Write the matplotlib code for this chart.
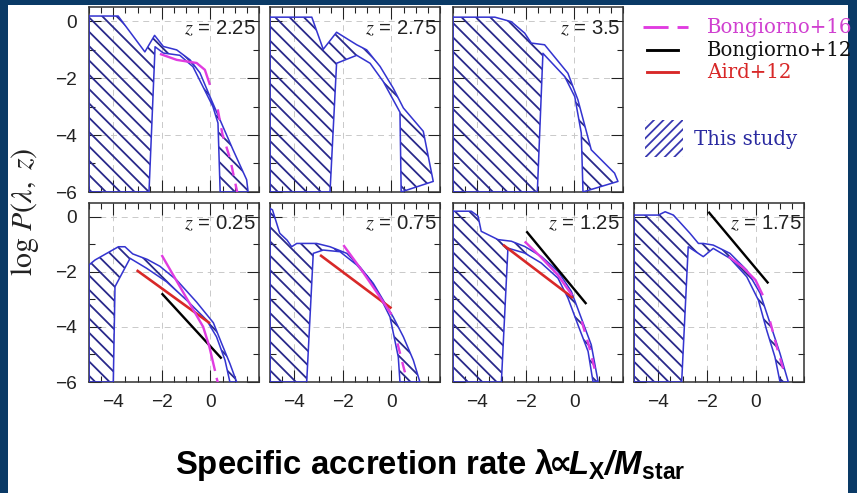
import numpy as np
import matplotlib
matplotlib.use('Agg')
import matplotlib.pyplot as plt
from matplotlib import font_manager
from matplotlib.lines import Line2D
from matplotlib.patches import Rectangle

# ---------------- data ----------------
z_labels = ['2.25', '2.75', '3.5', '0.25', '0.75', '1.25', '1.75']

# "This study" bands: upper and lower edges
up_x_225 = [-5.0, -3.8, -2.7, -2.3, -1.94, -1.39, -0.84, -0.43, -0.02, 0.39, 0.93, 1.49, 1.55]
up_y_225 = [0.18, 0.18, -1.08, -0.5, -0.89, -1.01, -1.36, -1.82, -2.65, -3.46, -4.52, -5.57, -6.0]
lo_x_225 = [-5.0, -2.53, -2.28, -1.94, -1.26, -0.72, -0.31, 0.1, 0.31, 0.4]
lo_y_225 = [-6.0, -6.0, -0.9, -1.12, -1.2, -1.6, -2.3, -3.0, -3.58, -6.0]

up_x_275 = [-5.0, -3.28, -2.81, -2.26, -1.43, -1.02, -0.47, 0.07, 0.49, 1.31, 1.72]
up_y_275 = [0.14, 0.14, -0.99, -0.39, -0.83, -1.01, -1.59, -2.35, -3.05, -3.87, -5.63]
lo_x_275 = [-5.0, -2.53, -2.26, -1.43, -0.88, -0.34, 0.21, 0.35, 0.4]
lo_y_275 = [-6.0, -6.0, -1.48, -1.2, -1.48, -2.12, -2.98, -3.2, -6.0]

up_x_350 = [-5.0, -3.28, -2.6, -2.05, -1.78, -1.23, -0.27, 0.14, 0.69, 1.65, 1.79]
up_y_350 = [0.14, 0.14, -0.02, -0.42, -0.77, -0.83, -1.83, -2.76, -4.52, -5.34, -5.63]
lo_x_350 = [-5.0, -1.53, -1.3, -0.4, 0.01, 0.28, 0.35]
lo_y_350 = [-6.0, -6.0, -1.13, -1.95, -2.65, -3.93, -6.0]

up_x_025 = [-5.0, -4.75, -3.79, -3.52, -3.2, -2.6, -2.08, -1.39, -0.57, 0.12, 0.46, 0.8, 1.08]
up_y_025 = [-1.75, -1.57, -1.09, -1.09, -1.35, -1.55, -1.8, -2.3, -3.1, -3.85, -4.6, -5.33, -6.0]
lo_x_025 = [-5.0, -4.0, -3.93, -3.31, -2.63, -1.81, -0.98, -0.16, 0.25, 0.6, 0.8]
lo_y_025 = [-6.0, -6.0, -2.54, -1.51, -1.87, -2.36, -3.03, -3.75, -4.36, -5.21, -6.0]

up_x_075 = [-5.0, -4.9, -4.6, -4.3, -4.11, -3.9, -3.63, -3.08, -2.53, -1.84, -1.3, -0.75, -0.34, 0.07, 0.49, 0.9, 1.17]
up_y_075 = [0.3, 0.25, -0.6, -0.85, -1.09, -0.97, -0.97, -0.97, -1.09, -1.33, -1.82, -2.42, -3.03, -3.64, -4.36, -5.21, -6.0]
lo_x_075 = [-5.0, -3.49, -3.22, -2.81, -2.12, -1.43, -0.88, -0.47, -0.06, 0.28, 0.35]
lo_y_075 = [-6.0, -6.0, -1.33, -1.21, -1.27, -1.75, -2.3, -2.91, -3.64, -5.09, -6.0]

up_x_125 = [-5.0, -4.25, -3.97, -3.84, -3.15, -2.6, -2.05, -1.37, -0.68, -0.13, 0.28, 0.69, 0.97]
up_y_125 = [0.2, 0.2, 0.02, -0.53, -0.83, -0.89, -1.08, -1.44, -1.98, -2.71, -3.68, -4.65, -5.98]
lo_x_125 = [-5.0, -3.01, -2.74, -2.05, -1.37, -0.68, -0.27, 0.14, 0.56, 0.76]
lo_y_125 = [-6.0, -6.0, -1.14, -1.32, -1.68, -2.23, -2.95, -3.92, -4.89, -5.98]

up_x_175 = [-5.0, -4.0, -3.72, -3.38, -2.7, -2.35, -2.15, -1.74, -1.05, -0.36, 0.19, 0.6, 1.01, 1.35]
up_y_175 = [0.06, 0.06, 0.18, 0.06, -0.6, -0.97, -0.97, -1.03, -1.33, -1.94, -2.78, -3.87, -4.97, -6.0]
lo_x_175 = [-5.0, -3.04, -2.77, -2.15, -1.74, -1.05, -0.36, 0.12, 0.46, 0.8, 1.01]
lo_y_175 = [-6.0, -6.0, -1.09, -1.45, -1.15, -1.51, -2.18, -3.03, -4.12, -5.09, -6.0]

# Bongiorno+16 (solid part, dashed extrapolation)
b16_x_225 = [-2.08, -1.39, -0.57, -0.23, -0.02]
b16_y_225 = [-1.15, -1.36, -1.47, -1.71, -2.24]
b16d_x_225 = [0.3, 0.5, 0.8, 1.1]
b16d_y_225 = [-3.1, -4.0, -4.8, -6.0]

b16_x_025 = [-2.01, -0.3, -0.05, 0.19]
b16_y_025 = [-1.39, -4.0, -4.7, -5.6]
b16d_x_025 = [0.25, 0.4]
b16d_y_025 = [-5.85, -6.3]

b16_x_075 = [-1.98, -1.3, -0.6, 0.0]
b16_y_075 = [-1.03, -1.85, -2.75, -3.55]
b16d_x_075 = [0.25, 0.45, 0.6]
b16d_y_075 = [-4.6, -5.3, -5.8]

b16_x_125 = [-2.05, -1.4, -0.7, -0.1]
b16_y_125 = [-0.9, -1.45, -2.1, -2.85]
b16d_x_125 = [0.3, 0.6, 0.85]
b16d_y_125 = [-3.8, -4.7, -5.6]

b16_x_175 = [-1.1, -0.5, 0.0, 0.3]
b16_y_175 = [-1.45, -1.85, -2.3, -2.85]
b16d_x_175 = [0.6, 0.9, 1.2]
b16d_y_175 = [-3.8, -4.8, -5.7]

# Bongiorno+12
b12_x_025 = [-2.01, 0.46]
b12_y_025 = [-2.78, -5.15]
b12_x_125 = [-1.98, 0.49]
b12_y_125 = [-0.53, -3.17]
b12_x_175 = [-1.94, 0.53]
b12_y_175 = [0.18, -2.42]

# Aird+12
a12_x_025 = [-3.04, -0.02]
a12_y_025 = [-1.94, -3.87]
a12_x_075 = [-2.94, 0.0]
a12_y_075 = [-1.39, -3.33]
a12_x_125 = [-2.94, -0.06]
a12_y_125 = [-1.02, -2.95]

# ---------------- style ----------------
W, H, DPI = 857, 493, 86
plt.rcParams['hatch.linewidth'] = 1.5
plt.rcParams['lines.scale_dashes'] = False

names = {f.name for f in font_manager.fontManager.ttflist}
bold_fam = 'Liberation Sans Narrow' if 'Liberation Sans Narrow' in names else 'Liberation Sans'
plt.rcParams['mathtext.fontset'] = 'custom'
plt.rcParams['mathtext.bfit'] = bold_fam + ':italic:bold'
plt.rcParams['mathtext.bf'] = bold_fam + ':bold'
plt.rcParams['mathtext.rm'] = bold_fam
plt.rcParams['mathtext.sf'] = 'DejaVu Sans:bold'

navy = '#0a3a66'
hatch_col = '#28288a'
edge_col = '#3434d0'
mag = '#e03ce0'
red = '#d82828'

fig = plt.figure(figsize=(W / DPI + 0.001, H / DPI + 0.001), dpi=DPI, facecolor=navy)
fig.patches.append(Rectangle((8 / W, 0), 840 / W, 1 - 5 / H, transform=fig.transFigure,
                             facecolor='white', edgecolor='none', zorder=-10))

col_left = [89, 270, 453, 634]
panels = [
    (0, 0, up_x_225, up_y_225, lo_x_225, lo_y_225),
    (0, 1, up_x_275, up_y_275, lo_x_275, lo_y_275),
    (0, 2, up_x_350, up_y_350, lo_x_350, lo_y_350),
    (1, 0, up_x_025, up_y_025, lo_x_025, lo_y_025),
    (1, 1, up_x_075, up_y_075, lo_x_075, lo_y_075),
    (1, 2, up_x_125, up_y_125, lo_x_125, lo_y_125),
    (1, 3, up_x_175, up_y_175, lo_x_175, lo_y_175),
]
b16 = {0: (b16_x_225, b16_y_225, b16d_x_225, b16d_y_225),
       3: (b16_x_025, b16_y_025, b16d_x_025, b16d_y_025),
       4: (b16_x_075, b16_y_075, b16d_x_075, b16d_y_075),
       5: (b16_x_125, b16_y_125, b16d_x_125, b16d_y_125),
       6: (b16_x_175, b16_y_175, b16d_x_175, b16d_y_175)}
b12 = {3: (b12_x_025, b12_y_025), 5: (b12_x_125, b12_y_125), 6: (b12_x_175, b12_y_175)}
a12 = {3: (a12_x_025, a12_y_025), 4: (a12_x_075, a12_y_075), 5: (a12_x_125, a12_y_125)}

for i, (row, col, ux, uy, lx, ly) in enumerate(panels):
    if row == 0:
        rect = [col_left[col] / W, 1 - 192 / H, 170 / W, 185 / H]
    else:
        rect = [col_left[col] / W, 1 - 382 / H, 170 / W, 179 / H]
    ax = fig.add_axes(rect)
    ax.set_xlim(-5, 2)
    ax.set_ylim(-6, 0.5)
    ax.set_xticks([-4, -2, 0])
    ax.set_xticks(np.arange(-5, 2.01, 0.5), minor=True)
    ax.set_yticks([-6, -4, -2, 0])
    ax.set_yticks(np.arange(-6, 0.6, 1), minor=True)
    ax.tick_params(which='both', direction='in', top=True, right=True,
                   labelsize=16, pad=10, colors='#222222', width=0.9)
    ax.tick_params(which='major', length=10)
    ax.tick_params(which='minor', length=5)
    for lab in ax.get_xticklabels() + ax.get_yticklabels():
        lab.set_fontfamily('Liberation Sans')
    if row == 0:
        ax.tick_params(labelbottom=False)
    if col != 0:
        ax.tick_params(labelleft=False)
    for s in ax.spines.values():
        s.set_linewidth(1.3)
        s.set_color('#333333')
    ax.grid(True, which='major', color='#c8c8c8', linestyle=(0, (5, 4)), linewidth=0.8)
    ax.set_axisbelow(True)

    px = np.concatenate([ux, lx[::-1]])
    py = np.concatenate([uy, ly[::-1]])
    ax.fill(px, py, facecolor='none', edgecolor=hatch_col, hatch='\\\\', linewidth=0, zorder=2)
    ax.plot(np.append(px, px[0]), np.append(py, py[0]), color=edge_col, lw=1.3, zorder=3)

    if i in a12:
        ax.plot(*a12[i], color=red, lw=2.2, zorder=4, solid_capstyle='butt')
    if i in b12:
        ax.plot(*b12[i], color='black', lw=2.0, zorder=4, solid_capstyle='butt')
    if i in b16:
        sx, sy, dx, dy = b16[i]
        ax.plot(sx, sy, color=mag, lw=2.0, zorder=5, solid_capstyle='butt')
        ax.plot(dx, dy, color=mag, lw=2.0, zorder=5, linestyle=(0, (9, 7)))

    ax.text(1.88, -0.25, r'$z$ = ' + z_labels[i], ha='right', va='center', fontsize=17,
            family='Liberation Sans', math_fontfamily='stix', color='#222222', zorder=6)

# y label
fig.text(25 / W, 1 - 212 / H, r'$\log\,P(\lambda,\ z)$', rotation=90, ha='center', va='center',
         fontsize=25, math_fontfamily='stix', color='#222222')

# legend drawn in figure space
def fx(x):
    return x / W

def fy(y):
    return 1 - y / H

fig.add_artist(Line2D([fx(643), fx(690)], [fy(27), fy(27)], color=mag, lw=2.4,
                      linestyle=(0, (21, 7.5, 9.2, 30)), transform=fig.transFigure))
fig.add_artist(Line2D([fx(647), fx(678)], [fy(50), fy(50)], color='black', lw=2.4,
                      transform=fig.transFigure))
fig.add_artist(Line2D([fx(647), fx(678)], [fy(72), fy(72)], color=red, lw=2.4,
                      transform=fig.transFigure))
fig.patches.append(Rectangle((fx(645), fy(157)), 38 / W, 37 / H, transform=fig.transFigure,
                             facecolor='none', edgecolor='#3838b0', hatch='///', linewidth=0))
leg_font = dict(family='DejaVu Serif', fontsize=16.5, va='center', ha='left')
fig.text(fx(707), fy(27), 'Bongiorno+16', color='#d040d0', **leg_font)
fig.text(fx(707), fy(50), 'Bongiorno+12', color='#111111', **leg_font)
fig.text(fx(707), fy(72), 'Aird+12', color=red, **leg_font)
fig.text(fx(694), fy(139), 'This study', color='#2a2aa0', **leg_font)

# bottom axis title
fig.text(fx(430), fy(474), 'Specific accretion rate λ' +
         r'$\!\!\mathsf{\propto}\!\!\mathbfit{L}_{\mathbf{X}}\mathbfit{/M}_{\mathbf{star}}$',
         ha='center', va='baseline', fontsize=27.5, fontweight='bold',
         family=bold_fam, color='black')

fig.savefig('out.png', dpi=DPI, facecolor=navy)
